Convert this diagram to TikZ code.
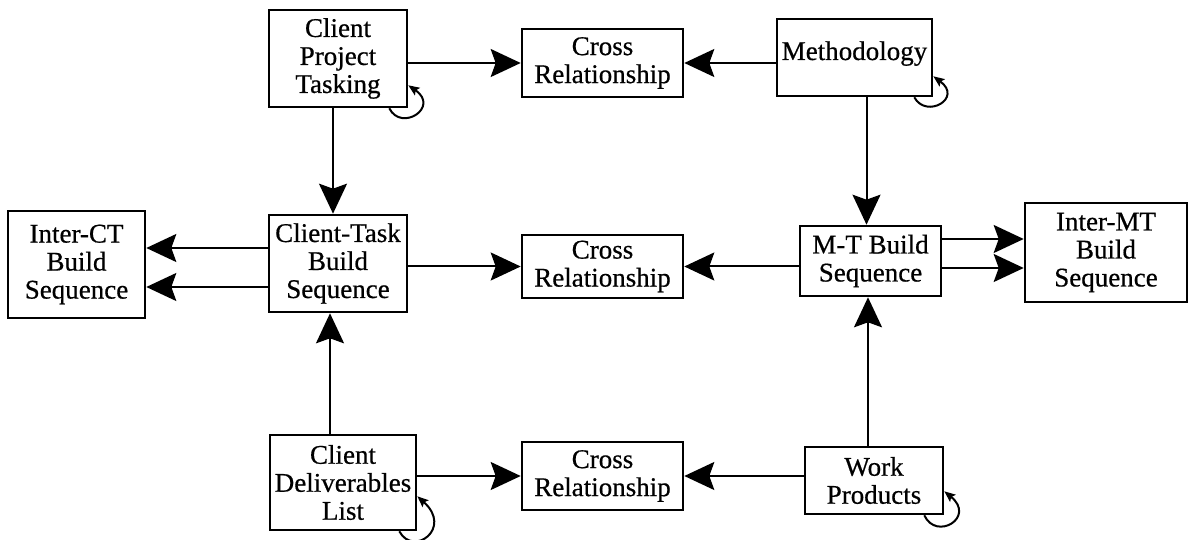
\documentclass[tikz,border=0pt]{standalone}
\usepackage{fontspec}
\setmainfont[FakeBold=0.6]{Liberation Serif}
\usetikzlibrary{arrows.meta}
\begin{document}
\begin{tikzpicture}[x=1pt,y=-1pt,
  box/.style={draw,line width=2.6pt,inner sep=0pt,align=center,
    font=\fontsize{27}{28}\selectfont},
  flow/.style={line width=2pt,-{Stealth[length=30pt,width=28pt,inset=5pt]}},
  selfloop/.style={line width=2pt,-{Stealth[length=11pt,width=9pt,inset=2pt]}}]
\useasboundingbox (0,0) rectangle (1195,540);

% top row
\node[box,minimum width=138pt,minimum height=97pt] (cpt) at (338,58.5) {Client\\Project\\Tasking};
\node[box,minimum width=161pt,minimum height=68pt] (cr1) at (602.5,63) {Cross\\Relationship};
\node[box,minimum width=155pt,minimum height=77pt] (meth) at (854.5,57.5) {\raisebox{-2.5pt}[0pt][0pt]{Methodology}};

% middle row
\node[box,minimum width=137pt,minimum height=107pt] (ict) at (76.5,264.5) {Inter-CT\\Build\\Sequence};
\node[box,minimum width=138pt,minimum height=97pt] (ctbs) at (338,263.5) {Client-Task\\Build\\Sequence};
\node[box,minimum width=161pt,minimum height=63pt] (cr2) at (602.5,266.5) {Cross\\Relationship};
\node[box,minimum width=141pt,minimum height=70pt] (mtbs) at (870.5,261) {M-T Build\\Sequence};
\node[box,minimum width=162pt,minimum height=99pt] (imt) at (1106,252.5) {Inter-MT\\Build\\Sequence};

% bottom row
\node[box,minimum width=146pt,minimum height=95pt] (cdl) at (343,482.5) {Client\\Deliverables\\List};
\node[box,minimum width=161pt,minimum height=68pt] (cr3) at (602.5,476) {Cross\\Relationship};
\node[box,minimum width=138pt,minimum height=67pt] (wp) at (874,480.5) {Work\\Products};

% horizontal links
\draw[flow] (cpt.east |- cr1.west) -- (cr1.west);
\draw[flow] (meth.west |- cr1.east) -- (cr1.east);
\draw[flow] (ctbs.east |- cr2.west) -- (cr2.west);
\draw[flow] (mtbs.west |- cr2.east) -- (cr2.east);
\draw[flow] (cdl.east |- cr3.west) -- (cr3.west);
\draw[flow] (wp.west |- cr3.east) -- (cr3.east);

% build sequence exports
\draw[flow] ([yshift=15.5pt]ctbs.west) -- ([yshift=15.5pt]ctbs.west -| ict.east);
\draw[flow] ([yshift=-23.5pt]ctbs.west) -- ([yshift=-23.5pt]ctbs.west -| ict.east);
\draw[flow] ([yshift=22pt]mtbs.east) -- ([yshift=22pt]mtbs.east -| imt.west);
\draw[flow] ([yshift=-7pt]mtbs.east) -- ([yshift=-7pt]mtbs.east -| imt.west);

% vertical links
\draw[flow] ([xshift=-5pt]cpt.south) -- ([xshift=-5pt]cpt.south |- ctbs.north);
\draw[flow] ([xshift=-4pt]mtbs.north |- meth.south) -- ([xshift=-4pt]mtbs.north);
\draw[flow] ([xshift=-8pt]ctbs.south |- cdl.north) -- ([xshift=-8pt]ctbs.south);
\draw[flow] ([xshift=-2.5pt]mtbs.south |- wp.north) -- ([xshift=-2.5pt]mtbs.south);

% self loops
\draw[selfloop] ([xshift=-19pt]cpt.south east) .. controls +(12,24) and +(32,22) .. ([yshift=23pt]cpt.south east);
\draw[selfloop] ([xshift=-19pt]meth.south east) .. controls +(12,22) and +(30,22) .. ([yshift=21pt]meth.south east);
\draw[selfloop] ([xshift=-18pt]cdl.south east) .. controls +(14,26) and +(36,32) .. ([yshift=35pt]cdl.south east);
\draw[selfloop] ([xshift=-20pt]wp.south east) .. controls +(12,26) and +(32,26) .. ([yshift=24pt]wp.south east);
\end{tikzpicture}
\end{document}
